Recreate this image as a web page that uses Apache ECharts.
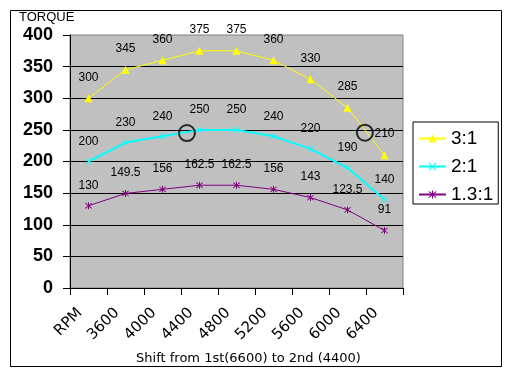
<!DOCTYPE html>
<html>
<head>
<meta charset="utf-8">
<script src="https://cdn.jsdelivr.net/npm/echarts@6/dist/echarts.min.js"></script>
<style>
html,body{margin:0;padding:0;background:#fff;}
#chart{width:509px;height:372px;}
</style>
</head>
<body>
<div id="chart"></div>
<script>
const categories = ['RPM','3600','4000','4400','4800','5200','5600','6000','6400'];
const ratio31 = [300, 345, 360, 375, 375, 360, 330, 285, 210];
const ratio21 = [200, 230, 240, 250, 250, 240, 220, 190, 140];
const ratio131 = [130, 149.5, 156, 162.5, 162.5, 156, 143, 123.5, 91];
// shift points: position measured in category-index units
const shiftPoints = [[2.66, 245], [7.47, 245.5]];
const yTicks = [0, 50, 100, 150, 200, 250, 300, 350, 400];

const xPath = 'path://M0,1L1,0L5,4L9,0L10,1L6,5L10,9L9,10L5,6L1,10L0,9L4,5Z';
const starPath = 'path://M0,1L1,0L5,4L9,0L10,1L6,5L10,9L9,10L5,6L1,10L0,9L4,5Z M4.3,-1L5.7,-1L5.7,11L4.3,11Z';

const labelCfg = {show: true, position: 'top', distance: 11, color: '#000', fontFamily: 'Arial, "Liberation Sans"', fontSize: 12};

const chart = echarts.init(document.getElementById('chart'), null, {renderer: 'canvas'});
chart.setOption({
  animation: false,
  backgroundColor: '#fff',
  graphic: [
    {type: 'rect', shape: {x: 10.5, y: 10.5, width: 491, height: 356}, style: {fill: 'none', stroke: '#000', lineWidth: 1}, z: 100},
    {type: 'text', left: 19, top: 11, style: {text: 'TORQUE', fontFamily: 'Arial, "Liberation Sans"', fontSize: 13, fill: '#000'}}
  ],
  grid: {left: 70, top: 35, right: 106, bottom: 84, containLabel: false, outerBoundsMode: 'none',
    show: true, backgroundColor: '#c0c0c0', borderColor: '#808080', borderWidth: 1},
  legend: {
    orient: 'vertical', left: 413, top: 122,
    padding: [7, 5, 0, 5], itemGap: 9, itemWidth: 27, itemHeight: 10, itemTextGap: 3,
    backgroundColor: '#fff', borderColor: '#000', borderWidth: 1, borderRadius: 0,
    textStyle: {fontFamily: 'Arial, "Liberation Sans"', fontSize: 19, lineHeight: 18, color: '#000'},
    data: ['3:1', '2:1', '1.3:1']
  },
  xAxis: [{
    type: 'category', data: categories, boundaryGap: true,
    axisLine: {show: true, lineStyle: {color: '#000', width: 1}},
    axisTick: {show: true, length: 7, lineStyle: {color: '#000'}},
    axisLabel: {rotate: 45, interval: 0, margin: 14, padding: [0, 12, 0, 0], fontFamily: '"DejaVu Sans"', fontSize: 15, color: '#000'},
    name: 'Shift from 1st(6600) to 2nd (4400)', nameLocation: 'middle', nameGap: 64,
    nameTextStyle: {fontFamily: '"DejaVu Sans"', fontSize: 13, color: '#000', padding: [0, 0, 0, 24]},
    splitLine: {show: false}
  }, {
    type: 'value', min: -0.5, max: 8.5, show: false, position: 'bottom'
  }],
  yAxis: {
    type: 'value', min: 0, max: 400, interval: 50,
    axisLine: {show: true, onZero: false, lineStyle: {color: '#000', width: 1}},
    axisTick: {show: true, length: 7, lineStyle: {color: '#000'}},
    axisLabel: {margin: 17, fontFamily: 'Arial, "Liberation Sans"', fontSize: 18, fontWeight: 'bold', color: '#000',
      customValues: yTicks},
    splitLine: {show: true, showMaxLine: false, lineStyle: {color: '#000', width: 1}}
  },
  series: [
    {name: '3:1', type: 'line', data: ratio31, symbol: 'triangle', symbolSize: 8,
     itemStyle: {color: '#ffff00'}, lineStyle: {color: '#ffff00', width: 1}, label: labelCfg},
    {name: '2:1', type: 'line', data: ratio21, symbol: xPath, symbolSize: 6,
     itemStyle: {color: '#00ffff'}, lineStyle: {color: '#00ffff', width: 2}, label: labelCfg},
    {name: '1.3:1', type: 'line', data: ratio131, symbol: starPath, symbolSize: 7,
     itemStyle: {color: '#800080'}, lineStyle: {color: '#800080', width: 1}, label: labelCfg},
    {name: 'shift', type: 'scatter', xAxisIndex: 1, data: shiftPoints, symbol: 'circle', symbolSize: 16, z: 5,
     itemStyle: {color: 'rgba(0,0,0,0)', borderColor: '#000', borderWidth: 2}, label: {show: false}}
  ]
});
</script>
</body>
</html>
